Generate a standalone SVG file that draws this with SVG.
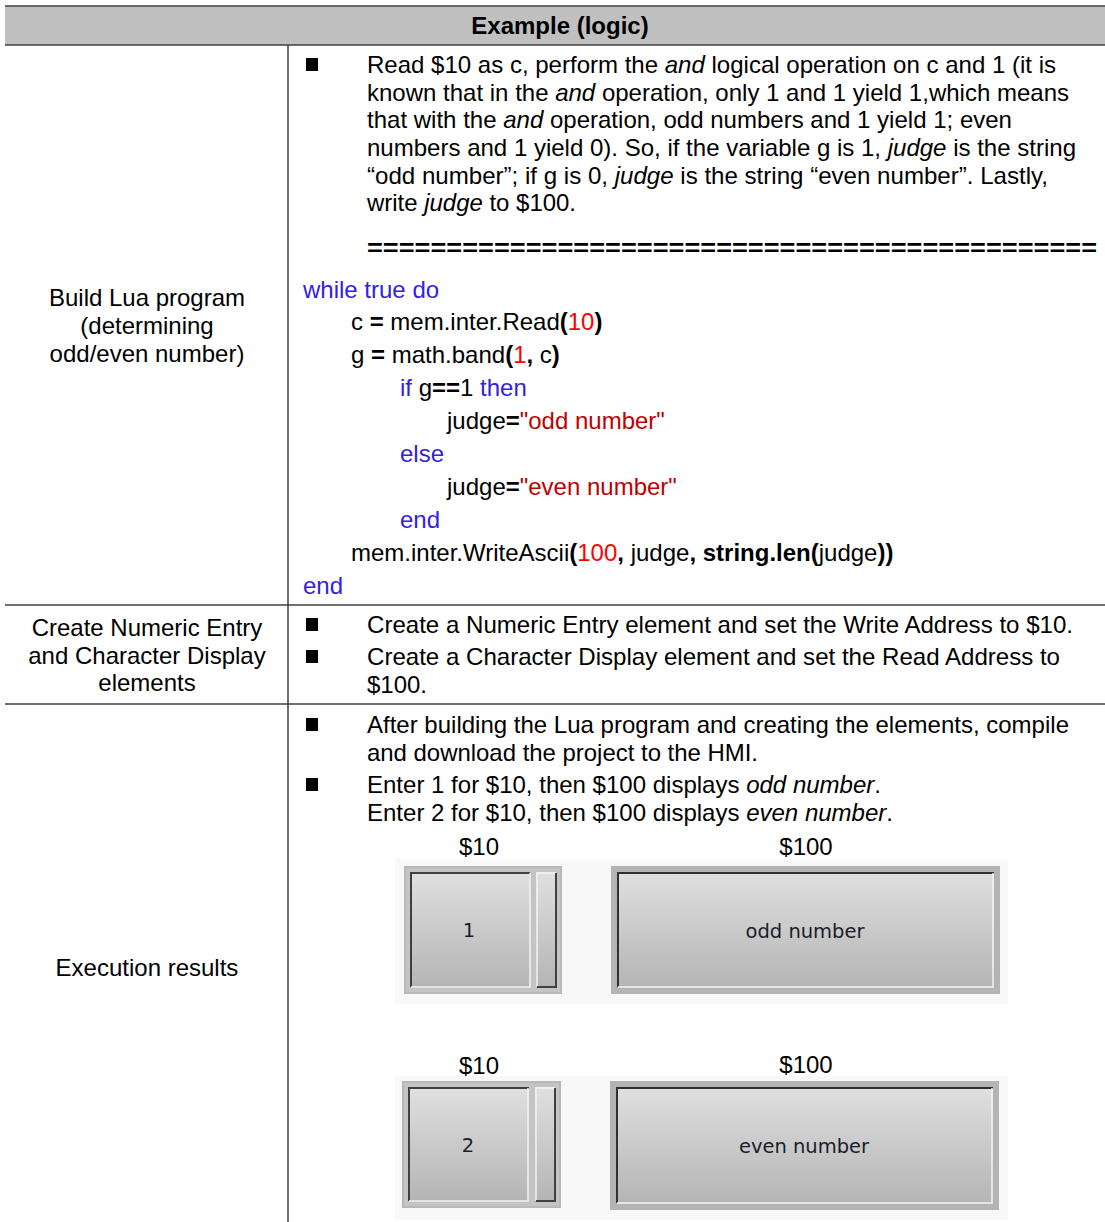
<svg xmlns="http://www.w3.org/2000/svg" width="1105" height="1222" viewBox="0 0 1105 1222">
<defs>
<linearGradient id="g" x1="0" y1="0" x2="0" y2="1">
<stop offset="0" stop-color="#e0e0e0"/>
<stop offset="1" stop-color="#b4b4b4"/>
</linearGradient>
<style>
text{font-family:"Liberation Sans",Arial,sans-serif;font-size:24px;fill:#000}
.c{text-anchor:middle}
.b{font-weight:bold}
.i{font-style:italic}
.kw{fill:#3322dd}
.n{fill:#ff0000}
.s{fill:#c00000}
.ln{stroke:#404040;stroke-width:1.5;fill:none}
.w{font-family:"DejaVu Sans",Verdana,sans-serif;font-size:19.5px;fill:#1c1c2c;text-anchor:middle}
</style>
</defs>
<rect width="1105" height="1222" fill="#fff"/>
<g id="table">
<rect x="5" y="6" width="1100" height="39" fill="#c0c0c0"/>
<path class="ln" d="M5 6H1105M5 45H1105M5 605H1105M5 704H1105M288 45V1222"/>
<text class="c b" x="560" y="34">Example (logic)</text>
</g>
<g id="row1-label">
<text class="c" x="147" y="306">Build Lua program</text>
<text class="c" x="147" y="334">(determining</text>
<text class="c" x="147" y="362">odd/even number)</text>
</g>
<g id="row1-desc">
<rect x="306" y="58" width="12" height="13"/>
<text x="367" y="73" textLength="689" lengthAdjust="spacingAndGlyphs">Read $10 as c, perform the <tspan class="i">and</tspan> logical operation on c and 1 (it is</text>
<text x="367" y="101" textLength="702" lengthAdjust="spacingAndGlyphs">known that in the <tspan class="i">and</tspan> operation, only 1 and 1 yield 1,which means</text>
<text x="367" y="128" textLength="645" lengthAdjust="spacingAndGlyphs">that with the <tspan class="i">and</tspan> operation, odd numbers and 1 yield 1; even</text>
<text x="367" y="156" textLength="709" lengthAdjust="spacingAndGlyphs">numbers and 1 yield 0). So, if the variable g is 1, <tspan class="i">judge</tspan> is the string</text>
<text x="367" y="184" textLength="681" lengthAdjust="spacingAndGlyphs">“odd number”; if g is 0, <tspan class="i">judge</tspan> is the string “even number”. Lastly,</text>
<text x="367" y="211" textLength="209" lengthAdjust="spacingAndGlyphs">write <tspan class="i">judge</tspan> to $100.</text>
<text class="b" x="367" y="256" textLength="730" lengthAdjust="spacingAndGlyphs">==============================================</text>
</g>
<g id="row1-code">
<text class="kw" x="303" y="298">while true do</text>
<text x="351" y="330">c <tspan class="b">=</tspan> mem.inter.Read<tspan class="b">(</tspan><tspan class="n">10</tspan><tspan class="b">)</tspan></text>
<text x="351" y="363">g <tspan class="b">=</tspan> math.band<tspan class="b">(</tspan><tspan class="n">1</tspan><tspan class="b">,</tspan> c<tspan class="b">)</tspan></text>
<text x="400" y="396"><tspan class="kw">if</tspan> g<tspan class="b">==</tspan>1 <tspan class="kw">then</tspan></text>
<text x="447" y="429">judge<tspan class="b">=</tspan><tspan class="s">"odd number"</tspan></text>
<text class="kw" x="400" y="462">else</text>
<text x="447" y="495">judge<tspan class="b">=</tspan><tspan class="s">"even number"</tspan></text>
<text class="kw" x="400" y="528">end</text>
<text x="351" y="561">mem.inter.WriteAscii<tspan class="b">(</tspan><tspan class="n">100</tspan><tspan class="b">,</tspan> judge<tspan class="b">,</tspan> <tspan class="b">string.len(</tspan>judge<tspan class="b">))</tspan></text>
<text class="kw" x="303" y="594">end</text>
</g>
<g id="row2-label">
<text class="c" x="147" y="636">Create Numeric Entry</text>
<text class="c" x="147" y="664">and Character Display</text>
<text class="c" x="147" y="691">elements</text>
</g>
<g id="row2-desc">
<rect x="306" y="618" width="12" height="13"/>
<text x="367" y="633" textLength="706" lengthAdjust="spacingAndGlyphs">Create a Numeric Entry element and set the Write Address to $10.</text>
<rect x="306" y="650" width="12" height="13"/>
<text x="367" y="665" textLength="693" lengthAdjust="spacingAndGlyphs">Create a Character Display element and set the Read Address to</text>
<text x="367" y="693" textLength="60" lengthAdjust="spacingAndGlyphs">$100.</text>
</g>
<g id="row3-label">
<text class="c" x="147" y="976">Execution results</text>
</g>
<g id="row3-desc">
<rect x="306" y="718" width="12" height="13"/>
<text x="367" y="733" textLength="702" lengthAdjust="spacingAndGlyphs">After building the Lua program and creating the elements, compile</text>
<text x="367" y="761" textLength="391" lengthAdjust="spacingAndGlyphs">and download the project to the HMI.</text>
<rect x="306" y="778" width="12" height="13"/>
<text x="367" y="793" textLength="514" lengthAdjust="spacingAndGlyphs">Enter 1 for $10, then $100 displays <tspan class="i">odd number</tspan>.</text>
<text x="367" y="821" textLength="526" lengthAdjust="spacingAndGlyphs">Enter 2 for $10, then $100 displays <tspan class="i">even number</tspan>.</text>
</g>
<g id="result-odd">
<rect x="395" y="859" width="613" height="145" fill="#f8f8f8"/>
<text class="c" x="479" y="855">$10</text>
<text class="c" x="806" y="855">$100</text>
<rect x="404" y="866" width="158" height="128" fill="#b8b8b8"/>
<rect x="406" y="868" width="154" height="124" fill="#c4c4c4"/>
<rect x="410" y="872" width="120" height="116" fill="url(#g)"/>
<path d="M411 987V873H530" stroke="#404040" stroke-width="2" fill="none"/>
<path d="M411 987H530V873" stroke="#f4f4f4" stroke-width="1.5" fill="none"/>
<rect x="536" y="872" width="20" height="116" fill="url(#g)"/>
<path d="M537 987V873H556" stroke="#f4f4f4" stroke-width="1.5" fill="none"/>
<path d="M537 987H556V873" stroke="#404040" stroke-width="2" fill="none"/>
<text class="w" x="469" y="937">1</text>
<rect x="611" y="866" width="389" height="128" fill="#b4b4b4"/>
<rect x="617" y="872" width="377" height="116" fill="url(#g)"/>
<path d="M618 987V873H994" stroke="#303030" stroke-width="2" fill="none"/>
<path d="M618 987H993V873" stroke="#f4f4f4" stroke-width="1.5" fill="none"/>
<text class="w" x="805" y="938">odd number</text>
</g>
<g id="result-even">
<rect x="395" y="1076" width="613" height="144" fill="#f8f8f8"/>
<text class="c" x="479" y="1074">$10</text>
<text class="c" x="806" y="1073">$100</text>
<rect x="402" y="1081" width="159" height="127" fill="#b8b8b8"/>
<rect x="404" y="1083" width="155" height="123" fill="#c4c4c4"/>
<rect x="408" y="1087" width="121" height="115" fill="url(#g)"/>
<path d="M409 1201V1088H529" stroke="#404040" stroke-width="2" fill="none"/>
<path d="M409 1201H528V1088" stroke="#f4f4f4" stroke-width="1.5" fill="none"/>
<rect x="535" y="1087" width="20" height="115" fill="url(#g)"/>
<path d="M536 1201V1088H555" stroke="#f4f4f4" stroke-width="1.5" fill="none"/>
<path d="M536 1201H555V1088" stroke="#404040" stroke-width="2" fill="none"/>
<text class="w" x="468" y="1152">2</text>
<rect x="610" y="1081" width="389" height="129" fill="#b4b4b4"/>
<rect x="616" y="1087" width="377" height="117" fill="url(#g)"/>
<path d="M617 1203V1088H993" stroke="#303030" stroke-width="2" fill="none"/>
<path d="M617 1203H992V1088" stroke="#f4f4f4" stroke-width="1.5" fill="none"/>
<text class="w" x="804" y="1153">even number</text>
</g>
</svg>
